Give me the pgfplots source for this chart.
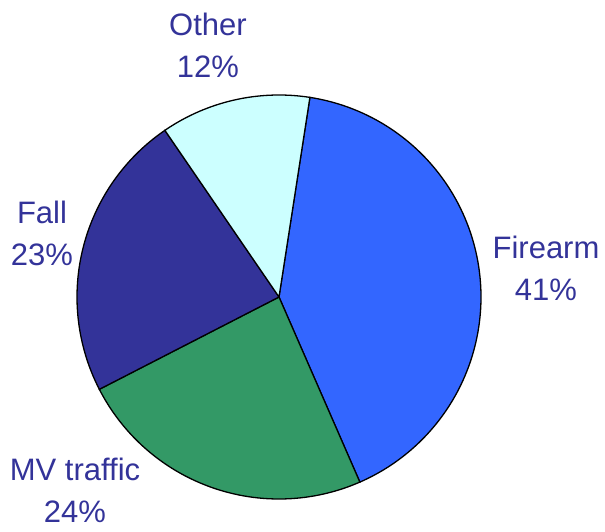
\documentclass[border=0pt]{standalone}
\usepackage{pgfplots}
\pgfplotsset{compat=1.18}
\usepackage{fontspec}
\setmainfont{Liberation Sans}
\definecolor{cFire}{HTML}{3366FF}
\definecolor{cMV}{HTML}{339966}
\definecolor{cFall}{HTML}{333399}
\definecolor{cOther}{HTML}{CCFFFF}
\definecolor{cText}{HTML}{333399}
\tikzset{lbl/.style={font=\fontsize{31}{42}\selectfont, text=cText, align=center, inner sep=0pt}}
\begin{document}
\begin{tikzpicture}
\begin{axis}[
  scale only axis, width=605pt, height=531pt,
  xmin=0, xmax=605, ymin=-531, ymax=0,
  hide axis, clip=false,
]
% Pie: Firearm 41, MV traffic 24, Fall 23, Other 12 (start 81.2 deg, clockwise)
\addplot[fill=cFire, draw=black, line width=1.3pt, domain=-66.4:81.2, samples=120]
  ({279+202*cos(x)}, {-297+202*sin(x)}) -- (axis cs:279,-297) -- cycle;
\addplot[fill=cMV, draw=black, line width=1.3pt, domain=-152.8:-66.4, samples=80]
  ({279+202*cos(x)}, {-297+202*sin(x)}) -- (axis cs:279,-297) -- cycle;
\addplot[fill=cFall, draw=black, line width=1.3pt, domain=-235.6:-152.8, samples=80]
  ({279+202*cos(x)}, {-297+202*sin(x)}) -- (axis cs:279,-297) -- cycle;
\addplot[fill=cOther, draw=black, line width=1.3pt, domain=-278.8:-235.6, samples=50]
  ({279+202*cos(x)}, {-297+202*sin(x)}) -- (axis cs:279,-297) -- cycle;
\node[lbl] at (axis cs:546,-268) {Firearm\\41\%};
\node[lbl] at (axis cs:42,-233) {Fall\\23\%};
\node[lbl] at (axis cs:208,-45) {Other\\12\%};
\node[lbl] at (axis cs:75,-490) {MV traffic\\24\%};
\end{axis}
\pgfresetboundingbox
\path (current axis.south west) rectangle (current axis.north east);
\end{tikzpicture}
\end{document}
